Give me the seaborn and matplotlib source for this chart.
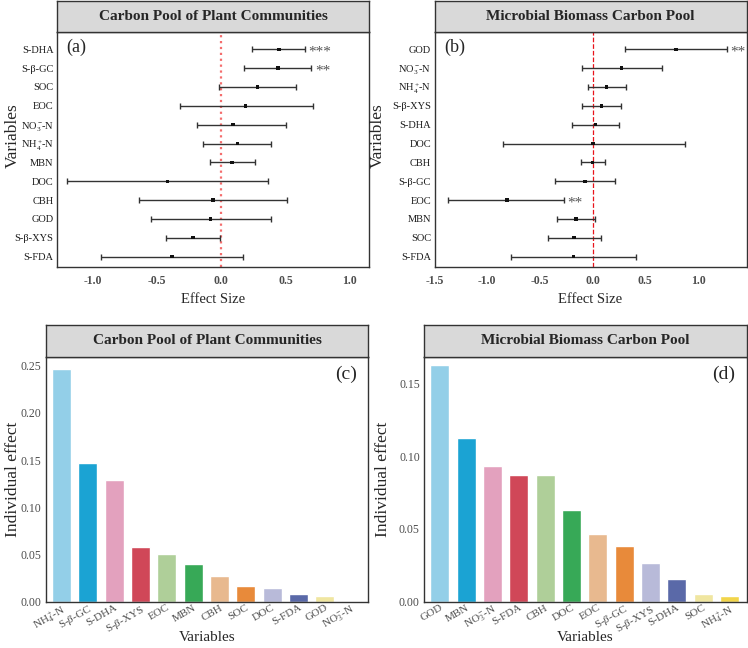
import seaborn as sns
import matplotlib.pyplot as plt
import pandas as pd

# (a) effect sizes, plant community carbon pool
vars_a = ["S-DHA", "S-β-GC", "SOC", "EOC", r"NO$_3^-\!$-N", r"NH$_4^+\!$-N", "MBN", "DOC", "CBH", "GOD", "S-β-XYS", "S-FDA"]
mean_a = [0.45, 0.44, 0.28, 0.19, 0.09, 0.125, 0.083, -0.42, -0.065, -0.083, -0.22, -0.385]
lo_a = [0.24, 0.18, -0.02, -0.32, -0.19, -0.14, -0.09, -1.20, -0.64, -0.55, -0.43, -0.94]
hi_a = [0.65, 0.70, 0.58, 0.71, 0.505, 0.385, 0.26, 0.36, 0.51, 0.385, -0.01, 0.17]
sig_a = ["***", "**", "", "", "", "", "", "", "", "", "", ""]

# (b) effect sizes, microbial biomass carbon pool
vars_b = ["GOD", r"NO$_3^-\!$-N", r"NH$_4^+\!$-N", "S-β-XYS", "S-DHA", "DOC", "CBH", "S-β-GC", "EOC", "MBN", "SOC", "S-FDA"]
mean_b = [0.79, 0.275, 0.131, 0.083, 0.027, 0.005, -0.002, -0.071, -0.813, -0.159, -0.175, -0.184]
lo_b = [0.307, -0.102, -0.046, -0.102, -0.197, -0.854, -0.112, -0.357, -1.373, -0.341, -0.423, -0.772]
hi_b = [1.278, 0.656, 0.313, 0.272, 0.247, 0.876, 0.118, 0.215, -0.269, 0.024, 0.077, 0.41]
sig_b = ["**", "", "", "", "", "", "", "", "**", "", "", ""]

# (c) individual effects, plant community carbon pool
vars_c = [r"NH$_4^+\!$-N", r"S-$\beta$-GC", "S-DHA", r"S-$\beta$-XYS", "EOC", "MBN", "CBH", "SOC", "DOC", "S-FDA", "GOD", r"NO$_3^-\!$-N"]
eff_c = [0.247, 0.1474, 0.129, 0.058, 0.0505, 0.040, 0.0274, 0.0165, 0.0147, 0.0084, 0.0063, 0.0012]

# (d) individual effects, microbial biomass carbon pool
vars_d = ["GOD", "MBN", r"NO$_3^-\!$-N", "S-FDA", "CBH", "DOC", "EOC", r"S-$\beta$-GC", r"S-$\beta$-XYS", "S-DHA", "SOC", r"NH$_4^+\!$-N"]
eff_d = [0.1624, 0.1128, 0.0933, 0.0871, 0.0868, 0.0632, 0.0464, 0.0386, 0.0264, 0.0156, 0.0055, 0.0041]

bar_colors = ["#93CFE8", "#1BA3D3", "#E3A1BE", "#D04758", "#AFCF99", "#37A957",
              "#E8B98F", "#E88A3A", "#B8BAD9", "#5A69A8", "#F0E6A0", "#F2D54A"]

sns.set_style("white")
plt.rcParams['font.family'] = ['Liberation Serif', 'DejaVu Serif']
plt.rcParams['mathtext.fontset'] = 'custom'
plt.rcParams['mathtext.rm'] = 'Liberation Serif'
plt.rcParams['mathtext.it'] = 'Liberation Serif:italic'
plt.rcParams['mathtext.bf'] = 'Liberation Serif:bold'

W, H = 748, 648
fig = plt.figure(figsize=(W / 100, H / 100), dpi=100)


def box(x0, x1, y0, y1):
    return [x0 / W, 1 - y1 / H, (x1 - x0) / W, (y1 - y0) / H]


def strip(x0, x1, y0, y1, title):
    s = fig.add_axes(box(x0, x1, y0, y1))
    s.set_facecolor("#D9D9D9")
    s.set_xticks([])
    s.set_yticks([])
    for sp in s.spines.values():
        sp.set_color("#333333")
        sp.set_linewidth(1)
    s.text(0.5, 0.5, title, ha="center", va="center", fontsize=11, fontweight="bold", transform=s.transAxes)


def forest(ax, names, mean, lo, hi, sig, xlim, line_kw, tag, ylab_x):
    df = pd.DataFrame({"var": names, "mean": mean, "lo": lo, "hi": hi})
    ax.axvline(0, zorder=1, **line_kw)
    ax.errorbar(df["mean"], df["var"],
                xerr=[df["mean"] - df["lo"], df["hi"] - df["mean"]],
                fmt="none", ecolor="#333333", elinewidth=1, capsize=2.2, capthick=1, zorder=2)
    sns.scatterplot(data=df, x="mean", y="var", ax=ax, marker="s", s=6, color="#111111",
                    edgecolor="none", zorder=3)
    for i, s in enumerate(sig):
        if s:
            ax.text(hi[i] + 0.03, i + 0.15, s, va="center", ha="left", fontsize=11, color="#555555")
    ax.set_xlim(*xlim)
    ax.set_ylim(11.55, -0.9)
    ax.tick_params(axis="x", length=0, pad=6, labelsize=8.5, labelcolor="#4D4D4D")
    ax.tick_params(axis="y", length=0, pad=2.5, labelsize=7.5, labelcolor="#1A1A1A")
    ax.set_xlabel("Effect Size", fontsize=10.5, labelpad=4)
    ax.set_ylabel("Variables", fontsize=12.5)
    ax.yaxis.set_label_coords(ylab_x, 0.56)
    for sp in ax.spines.values():
        sp.set_color("#333333")
        sp.set_linewidth(1)
    ax.text(0.03, 0.935, tag, transform=ax.transAxes, fontsize=13, va="center", ha="left")


def bars(ax, names, vals, ymax, yticks, ytlabels, tag, ylab_x):
    df = pd.DataFrame({"var": names, "val": vals})
    sns.barplot(data=df, x="var", y="val", hue="var", palette=bar_colors, legend=False,
                width=0.72, saturation=1, ax=ax)
    ax.set_xlim(-0.6, 11.65)
    ax.set_ylim(0, ymax)
    ax.set_yticks(yticks)
    ax.set_yticklabels(ytlabels)
    ax.tick_params(axis="y", length=0, pad=3, labelsize=8.5, labelcolor="#4D4D4D")
    ax.tick_params(axis="x", length=0, pad=1, labelsize=8, labelcolor="#4D4D4D")
    for t in ax.get_xticklabels():
        t.set_rotation(30)
        t.set_ha("right")
        t.set_rotation_mode("anchor")
    ax.set_xlabel("Variables", fontsize=11)
    ax.xaxis.set_label_coords(0.5, -0.118)
    ax.set_ylabel("Individual effect", fontsize=12.5)
    ax.yaxis.set_label_coords(ylab_x, 0.5)
    for sp in ax.spines.values():
        sp.set_color("#333333")
        sp.set_linewidth(1)
    ax.text(0.965, 0.93, tag, transform=ax.transAxes, fontsize=14, va="center", ha="right")


ax_a = fig.add_axes(box(57, 369, 32.3, 267))
strip(57, 369, 1, 32.3, "Carbon Pool of Plant Communities")
forest(ax_a, vars_a, mean_a, lo_a, hi_a, sig_a, (-1.28, 1.15),
       dict(color="#F46D6D", linestyle=":", linewidth=1.6), "(a)", -0.117)
ax_a.set_xticks([-1.0, -0.5, 0.0, 0.5, 1.0])
ax_a.set_xticklabels(["-1.0", "-0.5", "0.0", "0.5", "1.0"], fontweight="bold")

ax_b = fig.add_axes(box(434.5, 746.5, 32.3, 267))
strip(434.5, 746.5, 1, 32.3, "Microbial Biomass Carbon Pool")
forest(ax_b, vars_b, mean_b, lo_b, hi_b, sig_b, (-1.49, 1.46),
       dict(color="#E8131B", linestyle="--", linewidth=0.9), "(b)", -0.155)
ax_b.set_xticks([-1.5, -1.0, -0.5, 0.0, 0.5, 1.0])
ax_b.set_xticklabels(["-1.5", "-1.0", "-0.5", "0.0", "0.5", "1.0"], fontweight="bold")

ax_c = fig.add_axes(box(45.7, 368.3, 356.7, 601.7))
strip(45.7, 368.3, 325, 356.7, "Carbon Pool of Plant Communities")
bars(ax_c, vars_c, eff_c, 0.2595, [0, 0.05, 0.10, 0.15, 0.20, 0.25],
     ["0.00", "0.05", "0.10", "0.15", "0.20", "0.25"], "(c)", -0.077)

ax_d = fig.add_axes(box(424, 746.5, 356.7, 601.7))
strip(424, 746.5, 325, 356.7, "Microbial Biomass Carbon Pool")
bars(ax_d, vars_d, eff_d, 0.1684, [0, 0.05, 0.10, 0.15],
     ["0.00", "0.05", "0.10", "0.15"], "(d)", -0.103)

fig.savefig("out.png", dpi=100)
